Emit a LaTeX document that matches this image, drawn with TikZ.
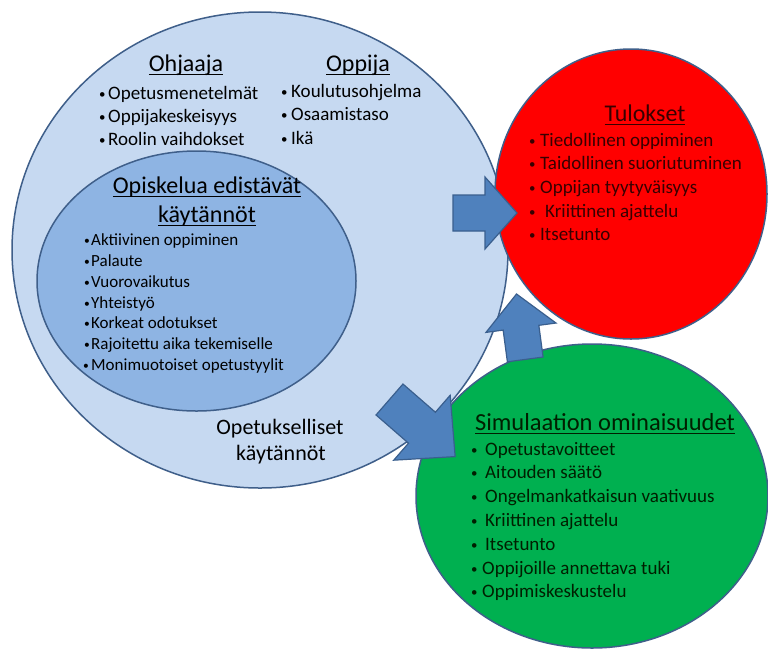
\documentclass[tikz,border=0pt]{standalone}
\usepackage{graphicx}
\usepackage{fontspec}
\setmainfont{Carlito}
\definecolor{bigfill}{HTML}{C6D9F1}
\definecolor{innerfill}{HTML}{8EB4E3}
\definecolor{edge}{HTML}{3F5F8A}
\definecolor{redfill}{HTML}{FF0000}
\definecolor{greenfill}{HTML}{00B050}
\definecolor{arrowfill}{HTML}{4F81BD}
\definecolor{arrowedge}{HTML}{3A5F8E}
\definecolor{redtext}{rgb}{0.22,0,0}
\definecolor{greentext}{rgb}{0,0.12,0}
\newcommand\ttl[1]{\setbox0\hbox{#1}\rlap{\rule[-3.8pt]{\wd0}{1.3pt}}\box0}
\newcommand\itm[2]{\makebox[#1][l]{\raisebox{0.6pt}{\scalebox{0.68}{•}}}#2}
\tikzset{
  item/.style={anchor=west, inner sep=0pt, text height=14pt, text depth=4pt, font=\fontsize{19}{23}\selectfont},
  smallitem/.style={anchor=west, inner sep=0pt, text height=12.5pt, text depth=3.5pt, font=\fontsize{17}{20}\selectfont},
  ttlnode/.style={anchor=center, inner sep=0pt, text height=17pt, text depth=6pt, font=\fontsize{24}{28}\selectfont},
  plain/.style={anchor=center, inner sep=0pt, text height=15pt, text depth=5pt, font=\fontsize{22}{26}\selectfont},
  blob/.style={draw=edge, line width=1.5pt},
  barrow/.style={fill=arrowfill, draw=arrowedge, line width=1.2pt, line join=miter}
}
\begin{document}
\begin{tikzpicture}[x=1pt, y=-1pt]
\useasboundingbox (0,0) rectangle (768,649);
\fill[white] (0,0) rectangle (768,649);
\clip (0,0) rectangle (768,649);

% big ellipse and inner ellipse
\path[blob, fill=bigfill] (260,250) ellipse [x radius=248, y radius=238];
\path[blob, fill=innerfill] (196.5,281) ellipse [x radius=159.5, y radius=130];
% red
\path[blob, fill=redfill] (631,194) ellipse [x radius=136, y radius=145];
% green
\path[blob, fill=greenfill] (592,496) ellipse [x radius=176, y radius=152];
% up arrow
\draw[barrow, shift={(516.5,294)}, rotate=97.6] (0,0) -- (-34,35.3) -- (-34,18) -- (-66,18) -- (-66,-18) -- (-34,-18) -- (-34,-35.3) -- cycle;
% right arrow
\draw[barrow] (453,195) -- (485,195) -- (485,177) -- (517,213) -- (485,249) -- (485,231) -- (453,231) -- cycle;
% down-right arrow
\draw[barrow, shift={(389.5,399.5)}, rotate=-41] (0,-20.5) -- (43,-20.5) -- (43,-43) -- (87,0) -- (43,43) -- (43,20.5) -- (0,20.5) -- cycle;

% Ohjaaja
\node[ttlnode] (ohj) at (186,65.5) {\ttl{Ohjaaja}};
\node[item] (ohj1) at (99,94) {\itm{9pt}{Opetusmenetelmät}};
\node[item] (ohj2) at (99,117) {\itm{9pt}{Oppijakeskeisyys}};
\node[item] (ohj3) at (99,140) {\itm{9pt}{Roolin vaihdokset}};
% Oppija
\node[ttlnode] (opp) at (358,65.5) {\ttl{Oppija}};
\node[item] (opp1) at (281,92) {\itm{10pt}{Koulutusohjelma}};
\node[item] (opp2) at (281,115) {\itm{10pt}{Osaamistaso}};
\node[item] (opp3) at (281,139) {\itm{10pt}{Ikä}};

% inner
\node[ttlnode] (inT1) at (207,187.5) {\ttl{Opiskelua edistävät}};
\node[ttlnode] (inT2) at (207,216.5) {\ttl{käytännöt}};
\node[smallitem] (in1) at (84,241) {\itm{7pt}{Aktiivinen oppiminen}};
\node[smallitem] (in2) at (84,262) {\itm{7pt}{Palaute}};
\node[smallitem] (in3) at (84,283) {\itm{7pt}{Vuorovaikutus}};
\node[smallitem] (in4) at (84,304) {\itm{7pt}{Yhteistyö}};
\node[smallitem] (in5) at (84,324) {\itm{7pt}{Korkeat odotukset}};
\node[smallitem] (in6) at (84,345) {\itm{7pt}{Rajoitettu aika tekemiselle}};
\node[smallitem] (in7) at (83,366) {\itm{8pt}{Monimuotoiset opetustyylit}};

% bottom label
\node[plain] (op1) at (280,429) {Opetukselliset};
\node[plain] (op2) at (281,455) {käytännöt};

% Tulokset
\node[ttlnode, text=redtext] (tul) at (645,115.5) {\ttl{Tulokset}};
\node[item, text=redtext] (tul1) at (529,141) {\itm{11pt}{Tiedollinen oppiminen}};
\node[item, text=redtext] (tul2) at (529,164) {\itm{11pt}{Taidollinen suoriutuminen}};
\node[item, text=redtext] (tul3) at (529,188) {\itm{11pt}{Oppijan tyytyväisyys}};
\node[item, text=redtext] (tul4) at (529,212) {\itm{16pt}{Kriittinen ajattelu}};
\node[item, text=redtext] (tul5) at (529,235) {\itm{11pt}{Itsetunto}};

% Simulaatio
\node[ttlnode, text=greentext, font=\fontsize{24.5}{28}\selectfont] (sim) at (605,424.5) {\ttl{Simulaation ominaisuudet}};
\node[item, text=greentext] (sim1) at (471,450) {\itm{14pt}{Opetustavoitteet}};
\node[item, text=greentext] (sim2) at (471,473) {\itm{14pt}{Aitouden säätö}};
\node[item, text=greentext] (sim3) at (471,497) {\itm{14pt}{Ongelmankatkaisun vaativuus}};
\node[item, text=greentext] (sim4) at (471,521) {\itm{14pt}{Kriittinen ajattelu}};
\node[item, text=greentext] (sim5) at (471,545) {\itm{14pt}{Itsetunto}};
\node[item, text=greentext] (sim6) at (471,569) {\itm{11pt}{Oppijoille annettava tuki}};
\node[item, text=greentext] (sim7) at (471,592) {\itm{11pt}{Oppimiskeskustelu}};
\end{tikzpicture}
\end{document}
